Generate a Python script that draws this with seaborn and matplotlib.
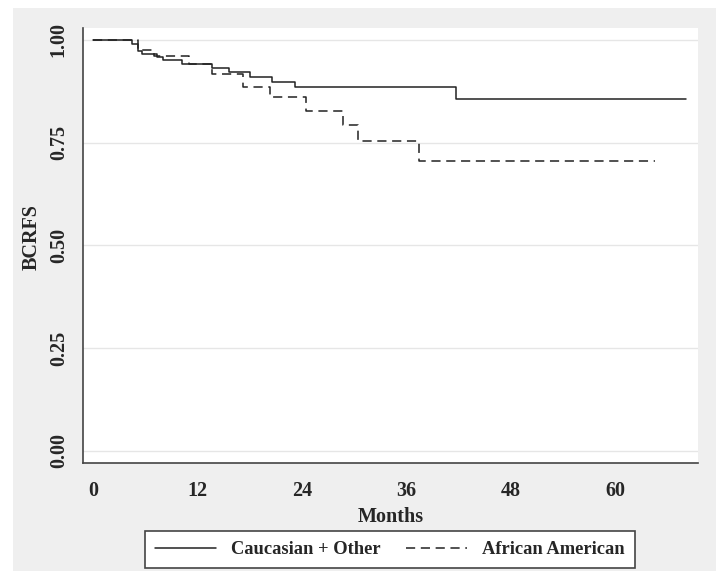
import numpy as np
import pandas as pd
import seaborn as sns
import matplotlib.pyplot as plt
from matplotlib.patches import Rectangle

# Kaplan-Meier step points
months_cauc = [0, 4.5, 5.1, 5.6, 7.3, 8.0, 10.2, 13.6, 15.6, 18.0, 20.5, 23.2, 41.7, 68.1]
bcrfs_cauc = [1.0, 0.990, 0.974, 0.966, 0.958, 0.950, 0.942, 0.931, 0.921, 0.911, 0.898, 0.885, 0.857, 0.857]
months_aa = [0, 5.1, 7.0, 11.05, 13.6, 17.2, 20.3, 24.5, 28.7, 30.4, 37.4, 64.6]
bcrfs_aa = [1.0, 0.976, 0.962, 0.942, 0.917, 0.886, 0.860, 0.828, 0.792, 0.755, 0.706, 0.706]

x_ticks = [0, 12, 24, 36, 48, 60]
y_ticks = [0.00, 0.25, 0.50, 0.75, 1.00]
series_names = ["Caucasian + Other", "African American"]

sns.set_style("white")
plt.rcParams['font.family'] = ['Liberation Serif', 'DejaVu Serif']
plt.rcParams['font.weight'] = 'bold'

fig = plt.figure(figsize=(7.19, 5.71), dpi=100)
fig.patch.set_facecolor('white')
fig.patches.append(Rectangle((13 / 719, 0), 703 / 719, 1 - 8 / 571, transform=fig.transFigure,
                             facecolor='#efefef', edgecolor='none', zorder=-1))
ax = fig.add_axes([82.7 / 719, 1 - 463.3 / 571, (698 - 82.7) / 719, (463.3 - 28) / 571])
ax.set_facecolor('white')

sns.lineplot(x=months_cauc, y=bcrfs_cauc, drawstyle='steps-post', color='#222222', lw=1.1,
             ax=ax, label=series_names[0])
sns.lineplot(x=months_aa, y=bcrfs_aa, drawstyle='steps-post', color='#222222', lw=1.1,
             linestyle=(0, (6, 3.7)), ax=ax, label=series_names[1])

ax.set_xlim(-1.22, 69.5)
ax.set_ylim(-0.030, 1.029)
ax.set_xticks(x_ticks)
ax.set_yticks(y_ticks)
ax.set_yticklabels([f"{v:.2f}" for v in y_ticks], rotation=90, va='center')
ax.tick_params(axis='x', length=8, width=1, color='#444', labelsize=14.5, pad=5)
ax.tick_params(axis='y', length=7, width=1, color='#444', labelsize=14.5, pad=3)
ax.grid(axis='y', color='#e6e6e6', lw=1)
ax.set_axisbelow(True)
for s in ['top', 'right']:
    ax.spines[s].set_visible(False)
for s in ['left', 'bottom']:
    ax.spines[s].set_color('#444')
    ax.spines[s].set_linewidth(1.2)

ax.set_xlabel("Months", fontsize=14.5, fontweight='bold', labelpad=4)
ax.set_ylabel("BCRFS", fontsize=14.5, fontweight='bold')
ax.yaxis.set_label_coords(-0.066, 0.52)

ax.legend(loc='center', bbox_to_anchor=(390 / 719, 1 - 549.5 / 571), bbox_transform=fig.transFigure,
          ncol=2, frameon=True, fancybox=False, edgecolor='#444', framealpha=1,
          fontsize=13.3, handlelength=3.3, columnspacing=1.4, borderpad=0.55, handletextpad=0.8)
ax.get_legend().get_frame().set_linewidth(1.2)

plt.savefig("out.png", dpi=100)
